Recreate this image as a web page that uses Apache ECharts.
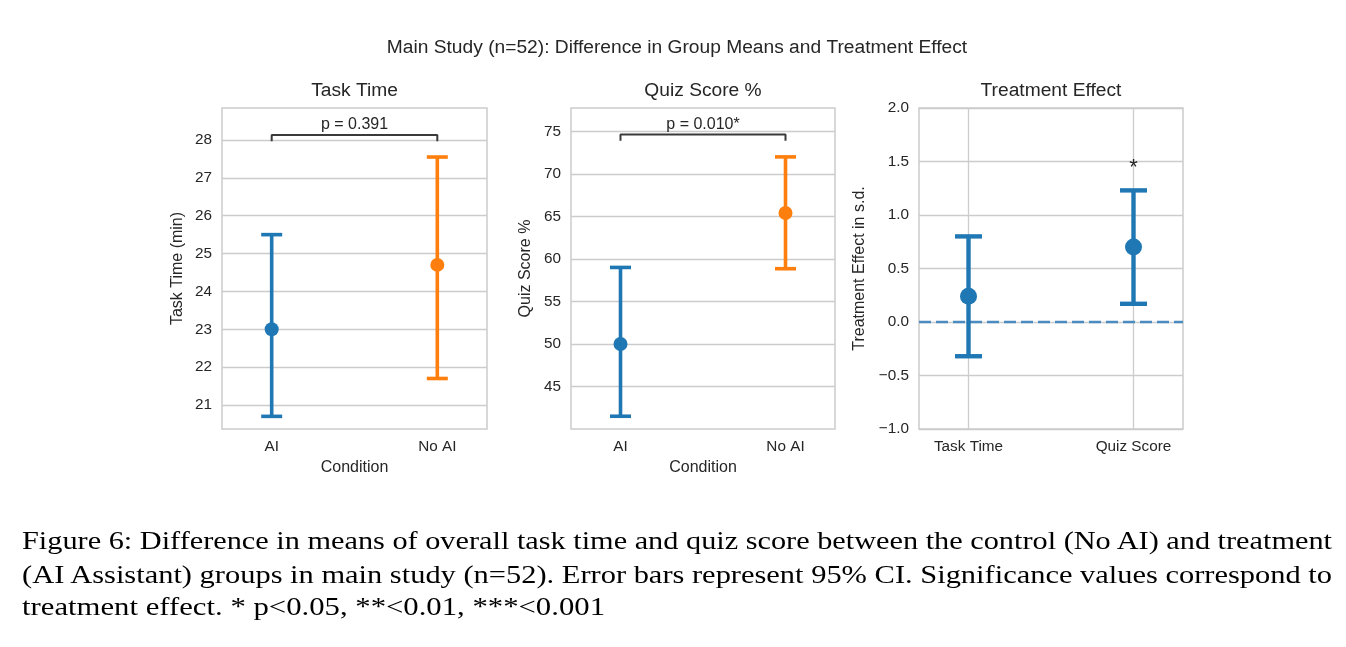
<!DOCTYPE html>
<html>
<head>
<meta charset="utf-8">
<script src="https://cdn.jsdelivr.net/npm/echarts@6/dist/echarts.min.js"></script>
<style>
html, body { margin: 0; padding: 0; background: #ffffff; }
#chart { position: absolute; left: 0; top: 0; width: 1346px; height: 647px; }
.cap { position: absolute; left: 22px; font-family: 'Liberation Serif', 'Times New Roman', serif; font-size: 26px; color: #000; white-space: nowrap; line-height: 1; transform-origin: 0 50%; }
</style>
</head>
<body>
<div id="chart"></div>
<div id="cap1" class="cap" style="top:528px">Figure 6: Difference in means of overall task time and quiz score between the control (No AI) and treatment</div>
<div id="cap2" class="cap" style="top:561.5px">(AI Assistant) groups in main study (n=52). Error bars represent 95% CI. Significance values correspond to</div>
<div id="cap3" class="cap" style="top:594px">treatment effect. * p&lt;0.05, **&lt;0.01, ***&lt;0.001</div>
<script>
// ---------- data ----------
const conditions = ['AI', 'No AI'];
const taskTimeMean = [23.0, 24.7];
const taskTimeLow = [20.7, 21.7];
const taskTimeHigh = [25.5, 27.55];
const quizMean = [50.0, 65.4];
const quizLow = [41.5, 58.85];
const quizHigh = [59.0, 72.0];
const effectLabels = ['Task Time', 'Quiz Score'];
const effectMean = [0.24, 0.70];
const effectLow = [-0.32, 0.17];
const effectHigh = [0.80, 1.23];
const taskTimeTicks = [21, 22, 23, 24, 25, 26, 27, 28];
const quizTicks = [45, 50, 55, 60, 65, 70, 75];
const effectTicks = [-1.0, -0.5, 0.0, 0.5, 1.0, 1.5, 2.0];
const pLabels = ['p = 0.391', 'p = 0.010*'];
const taskBracket = [27.97, 28.13];
const quizBracket = [73.9, 74.62];
const effectSig = ['', '*'];
const effectSigY = 1.44;

// ---------- style ----------
const FONT = "'Liberation Sans', Arial, Helvetica, sans-serif";
const TXT = '#262626';
const GRIDC = '#cccccc';
const BLUE = '#1f77b4';
const ORANGE = '#ff7f0e';
const groupColors = [BLUE, ORANGE];

const gridBoxes = [
  { left: 222, top: 108, width: 265, height: 321 },
  { left: 571, top: 108, width: 264, height: 321 },
  { left: 919, top: 108, width: 264, height: 321 }
];

function makeX(i, labels, name, vgrid) {
  return {
    type: 'value', gridIndex: i, min: -0.3, max: 1.3,
    axisLine: { show: false },
    axisTick: { show: false, customValues: [0, 1] },
    axisLabel: { customValues: [0, 1], formatter: v => labels[Math.round(v)], color: TXT, fontSize: 15.3, fontFamily: FONT, margin: 10 },
    splitLine: { show: vgrid, lineStyle: { color: GRIDC, width: 1.3 } },
    name: name, nameLocation: 'middle', nameGap: 31,
    nameTextStyle: { color: TXT, fontSize: 16, fontFamily: FONT }
  };
}
function makeY(i, min, max, ticks, name, gap, fmt) {
  return {
    type: 'value', gridIndex: i, min: min, max: max,
    axisLine: { show: false },
    axisTick: { show: false, customValues: ticks },
    axisLabel: { customValues: ticks, formatter: fmt, color: TXT, fontSize: 15.3, fontFamily: FONT, margin: 10 },
    splitLine: { show: true, lineStyle: { color: GRIDC, width: 1.3 } },
    name: name, nameLocation: 'middle', nameGap: gap, nameRotate: 90,
    nameTextStyle: { color: TXT, fontSize: 16, fontFamily: FONT }
  };
}

function errRender(capW, lw) {
  return function (params, api) {
    const x = api.value(0), lo = api.value(1), hi = api.value(2);
    const a = api.coord([x, lo]), b = api.coord([x, hi]);
    const style = { stroke: api.visual('color'), lineWidth: lw, fill: null };
    return {
      type: 'group', children: [
        { type: 'line', shape: { x1: a[0], y1: a[1], x2: b[0], y2: b[1] }, style: style },
        { type: 'line', shape: { x1: a[0] - capW / 2, y1: a[1], x2: a[0] + capW / 2, y2: a[1] }, style: style },
        { type: 'line', shape: { x1: b[0] - capW / 2, y1: b[1], x2: b[0] + capW / 2, y2: b[1] }, style: style }
      ]
    };
  };
}
function textRender(labels, size, va, dy) {
  return function (params, api) {
    const p = api.coord([api.value(0), api.value(1)]);
    return {
      type: 'text', x: p[0], y: p[1] + dy,
      style: { text: labels[params.dataIndex], fill: TXT, fontSize: size, fontFamily: FONT, align: 'center', verticalAlign: va }
    };
  };
}

function errData(low, high, colors) {
  return low.map((l, k) => ({ value: [k, l, high[k]], itemStyle: { color: colors[k] } }));
}
function meanData(mean, colors) {
  return mean.map((m, k) => ({ value: [k, m], itemStyle: { color: colors[k], opacity: 1 } }));
}
function bracketData(br) {
  return [[0, br[0]], [0, br[1]], [1, br[1]], [1, br[0]]];
}

const sigIdx = effectSig.map((s, k) => k).filter(k => effectSig[k]);

const series = [];
// Panel 1
series.push({ type: 'custom', xAxisIndex: 0, yAxisIndex: 0, renderItem: errRender(21, 3.6), data: errData(taskTimeLow, taskTimeHigh, groupColors), z: 3 });
series.push({ type: 'scatter', xAxisIndex: 0, yAxisIndex: 0, symbolSize: 14, itemStyle: { opacity: 1 }, data: meanData(taskTimeMean, groupColors), z: 4 });
series.push({ type: 'line', xAxisIndex: 0, yAxisIndex: 0, data: bracketData(taskBracket), symbol: 'none', lineStyle: { color: '#3a3a3a', width: 2 }, z: 3 });
series.push({ type: 'custom', xAxisIndex: 0, yAxisIndex: 0, renderItem: textRender([pLabels[0]], 16, 'bottom', -2), data: [[0.5, taskBracket[1]]], z: 5 });
// Panel 2
series.push({ type: 'custom', xAxisIndex: 1, yAxisIndex: 1, renderItem: errRender(21, 3.6), data: errData(quizLow, quizHigh, groupColors), z: 3 });
series.push({ type: 'scatter', xAxisIndex: 1, yAxisIndex: 1, symbolSize: 14, itemStyle: { opacity: 1 }, data: meanData(quizMean, groupColors), z: 4 });
series.push({ type: 'line', xAxisIndex: 1, yAxisIndex: 1, data: bracketData(quizBracket), symbol: 'none', lineStyle: { color: '#3a3a3a', width: 2 }, z: 3 });
series.push({ type: 'custom', xAxisIndex: 1, yAxisIndex: 1, renderItem: textRender([pLabels[1]], 16, 'bottom', -2), data: [[0.5, quizBracket[1]]], z: 5 });
// Panel 3
series.push({ type: 'line', xAxisIndex: 2, yAxisIndex: 2, data: [[-0.3, 0], [1.3, 0]], symbol: 'none', lineStyle: { color: '#4b8bbf', width: 2.6, type: [12, 5] }, z: 2 });
series.push({ type: 'custom', xAxisIndex: 2, yAxisIndex: 2, renderItem: errRender(27, 4.4), data: errData(effectLow, effectHigh, [BLUE, BLUE]), z: 3 });
series.push({ type: 'scatter', xAxisIndex: 2, yAxisIndex: 2, symbolSize: 17, itemStyle: { opacity: 1 }, data: meanData(effectMean, [BLUE, BLUE]), z: 4 });
series.push({ type: 'custom', xAxisIndex: 2, yAxisIndex: 2, renderItem: textRender(sigIdx.map(k => effectSig[k]), 22, 'middle', 0),
  data: sigIdx.map(k => [k, effectSigY]), z: 5 });

const option = {
  backgroundColor: '#ffffff',
  animation: false,
  grid: gridBoxes.map(g => Object.assign({ show: true, borderColor: GRIDC, borderWidth: 1.5, backgroundColor: 'transparent' }, g)),
  xAxis: [
    makeX(0, conditions, 'Condition', false),
    makeX(1, conditions, 'Condition', false),
    makeX(2, effectLabels, '', true)
  ],
  yAxis: [
    makeY(0, 20.366, 28.845, taskTimeTicks, 'Task Time (min)', 36, v => String(v)),
    makeY(1, 40.0, 77.75, quizTicks, 'Quiz Score %', 37, v => String(v)),
    makeY(2, -1.0, 2.0, effectTicks, 'Treatment Effect in s.d.', 51, v => v.toFixed(1).replace('-', '\u2212'))
  ],
  graphic: [
    { type: 'text', x: 677, y: 48, style: { text: 'Main Study (n=52): Difference in Group Means and Treatment Effect', fill: TXT, fontSize: 19.2, fontFamily: FONT, align: 'center', verticalAlign: 'middle' } },
    { type: 'text', x: 354.5, y: 91, style: { text: 'Task Time', fill: TXT, fontSize: 19.2, fontFamily: FONT, align: 'center', verticalAlign: 'middle' } },
    { type: 'text', x: 703, y: 91, style: { text: 'Quiz Score %', fill: TXT, fontSize: 19.2, fontFamily: FONT, align: 'center', verticalAlign: 'middle' } },
    { type: 'text', x: 1051, y: 91, style: { text: 'Treatment Effect', fill: TXT, fontSize: 19.2, fontFamily: FONT, align: 'center', verticalAlign: 'middle' } }
  ],
  series: series
};

const chart = echarts.init(document.getElementById('chart'), null, { renderer: 'canvas' });
chart.setOption(option);

// widen caption lines to the justified widths of the original
const capTargets = { cap1: 1310, cap2: 1310, cap3: 583 };
Object.keys(capTargets).forEach(id => {
  const el = document.getElementById(id);
  const w = el.getBoundingClientRect().width;
  if (w > 0) el.style.transform = 'scaleX(' + (capTargets[id] / w) + ')';
});
</script>
</body>
</html>
